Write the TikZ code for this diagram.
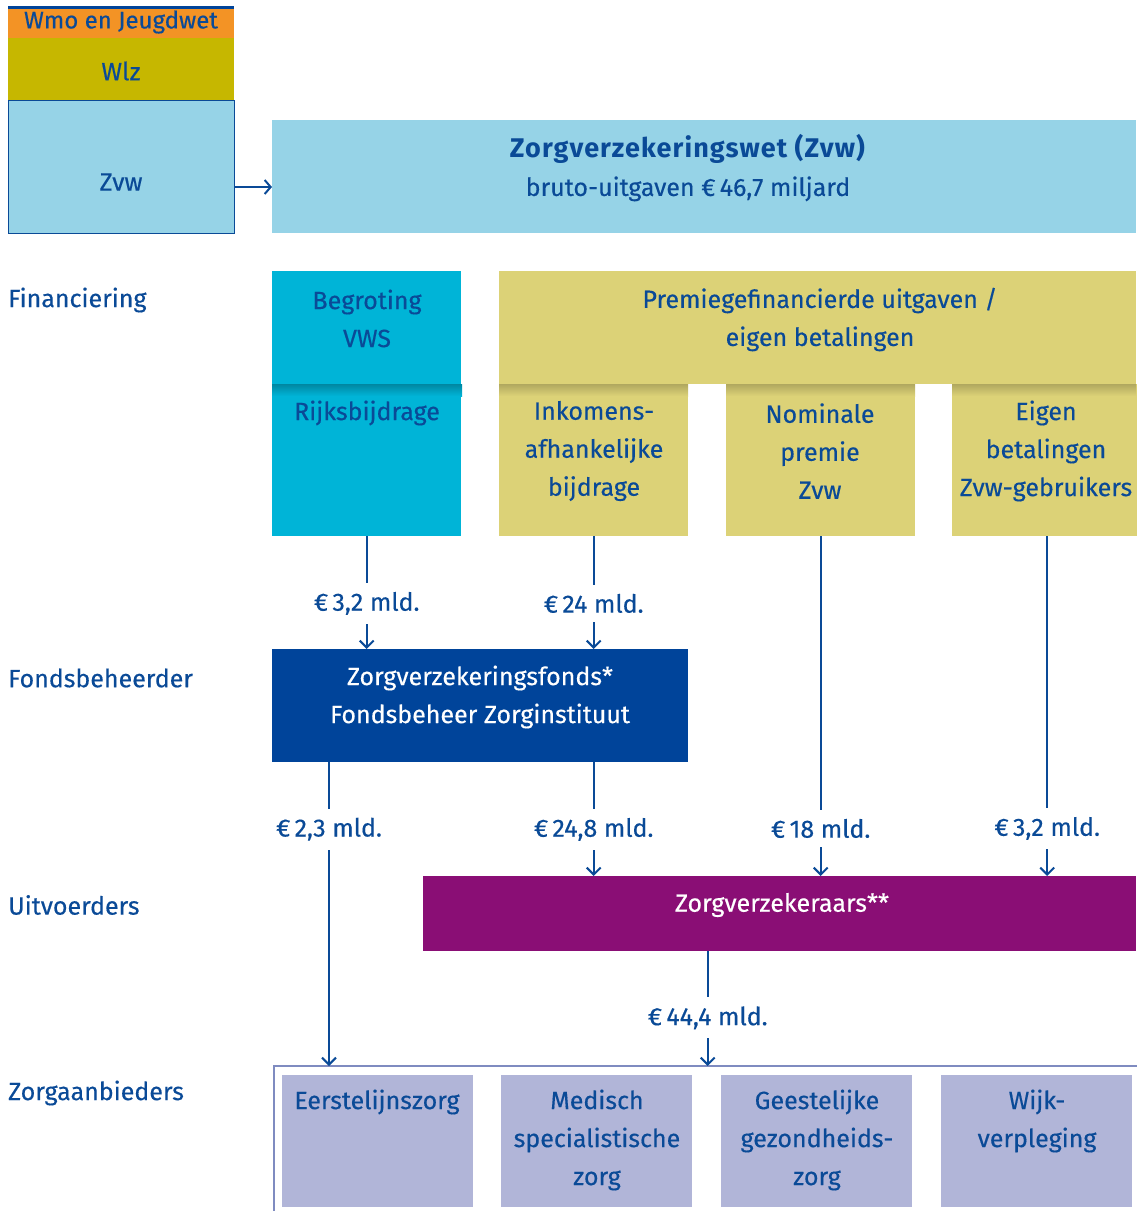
\documentclass[tikz,border=0pt]{standalone}
\usepackage{fontspec}
\setmainfont{Fira Sans}[UprightFeatures={FakeBold=0.35}]
\usetikzlibrary{arrows.meta}
\definecolor{txt}{HTML}{0A4A97}
\definecolor{zvwblue}{HTML}{96D3E7}
\definecolor{cyanbox}{HTML}{00B4D7}
\definecolor{khaki}{HTML}{DCD277}
\definecolor{navybox}{HTML}{00449A}
\definecolor{purplebox}{HTML}{8A0E75}
\definecolor{lav}{HTML}{B1B5D8}
\definecolor{framecol}{HTML}{7F8BC0}
\definecolor{orangebox}{HTML}{F39325}
\definecolor{olivebox}{HTML}{C6B700}
\begin{document}
\begin{tikzpicture}[x=1pt,y=-1pt,
  box/.style={draw=none,inner sep=0,anchor=north west},
  tx/.style={text=txt,font=\fontsize{25}{38}\selectfont,align=center,inner sep=0},
  wtx/.style={tx,text=white},
  rowlbl/.style={tx,anchor=west},
  flow/.style={draw=txt,line width=2pt,-{Straight Barb[length=7pt,width=14pt,line width=2pt]}},
  lbl/.style={tx,fill=white,inner xsep=3pt,inner ysep=9pt}
]
\useasboundingbox (0,0) rectangle (1136,1211);
% top-left legend
\node[box,fill=orangebox,minimum width=226,minimum height=32] (wmo) at (8,7) {};
\draw[navybox,line width=3pt] (wmo.north west) -- (wmo.north east);
\node[tx,font=\fontsize{24}{30}\selectfont] (wmot) at (121,22) {Wmo en Jeugdwet};
\node[box,fill=olivebox,minimum width=226,minimum height=62] (wlz) at (8,38) {};
\node[tx] (wlzt) at (121,71) {Wlz};
\node[box,fill=zvwblue,draw=txt,line width=0.8pt,minimum width=226,minimum height=133] (zvws) at (8,100) {};
\node[tx] (zvwst) at (121,182) {Zvw};
% big Zvw box
\node[box,fill=zvwblue,minimum width=864,minimum height=113] (big) at (272,120) {};
\node[tx] (bigt) at (688,168) {{\fontsize{27}{38}\selectfont\addfontfeatures{LetterSpace=4}\textbf{Zorgverzekeringswet (Zvw)}}\\bruto-uitgaven €\,46,7 miljard};
\draw[draw=txt,line width=2pt,-{Straight Barb[length=6pt,width=14pt,line width=2pt]}] (zvws.east |- 0,187) -- (big.west |- 0,187);
% row labels
\node[rowlbl] (r1) at (8,300) {Financiering};
\node[rowlbl] (r2) at (8,678) {Fondsbeheerder};
\node[rowlbl] (r3) at (8,905) {Uitvoerders};
\node[rowlbl] (r4) at (8,1093) {Zorgaanbieders};
% financing boxes
\node[box,fill=cyanbox,minimum width=189,minimum height=265] (begr) at (272,271) {};
\node[box,fill=khaki,minimum width=637,minimum height=113] (prem) at (499,271) {};
\node[box,fill=khaki,minimum width=189,minimum height=152] (ink) at (499,384) {};
\node[box,fill=khaki,minimum width=189,minimum height=152] (nom) at (726,384) {};
\node[box,fill=khaki,minimum width=190,minimum height=152] (eig) at (952,384) {};
% shadows
\shade[top color=cyanbox!75!black,bottom color=cyanbox] (272,384) rectangle (462,396);
\shade[top color=khaki!80!black,bottom color=khaki] (499,384) rectangle (688,396);
\shade[top color=khaki!80!black,bottom color=khaki] (726,384) rectangle (915,396);
\shade[top color=khaki!80!black,bottom color=khaki] (952,384) rectangle (1136,396);
\node[tx] (begrt) at (367,318.5) {Begroting\\VWS};
\node[tx] (rijkt) at (367,413) {Rijksbijdrage};
\node[tx] (premt) at (820,319.5) {Premiegefinancierde uitgaven /\\eigen betalingen};
\node[tx] (inkt) at (594,451) {Inkomens-\\afhankelijke\\bijdrage};
\node[tx] (nomt) at (820,451) {Nominale\\premie\\Zvw};
\node[tx] (eigt) at (1046,451) {Eigen\\betalingen\\Zvw-gebruikers};
% fonds
\node[box,fill=navybox,minimum width=416,minimum height=113] (fonds) at (272,649) {};
\node[wtx] (fondst) at (480,697) {Zorgverzekeringsfonds*\\Fondsbeheer Zorginstituut};
% zorgverzekeraars
\node[box,fill=purplebox,minimum width=713,minimum height=75] (zv) at (423,876) {};
\node[wtx] (zvt) at (782,905) {Zorgverzekeraars**};
% zorgaanbieders frame
\coordinate (ftl) at (274,1066);
\coordinate (fbl) at (274,1212);
\coordinate (ftr) at (1137,1066);
\draw[framecol,line width=2.5pt] (fbl) -- (ftl) -- (ftr);
\node[box,fill=lav,minimum width=191,minimum height=132] (eer) at (282,1075) {};
\node[box,fill=lav,minimum width=191,minimum height=132] (med) at (501,1075) {};
\node[box,fill=lav,minimum width=191,minimum height=132] (gee) at (721,1075) {};
\node[box,fill=lav,minimum width=191,minimum height=132] (wij) at (941,1075) {};
\node[tx] (eert) at (377,1102) {Eerstelijnszorg};
\node[tx] (medt) at (597,1140) {Medisch\\specialistische\\zorg};
\node[tx] (geet) at (817,1140) {Geestelijke\\gezondheids-\\zorg};
\node[tx] (wijt) at (1037,1121) {Wijk-\\verpleging};
% flows
\draw[flow] (begr.south) -- (begr.south |- fonds.north) node[lbl,pos=0.595] {€\,3,2 mld.};
\draw[flow] (ink.south) -- (ink.south |- fonds.north) node[lbl,pos=0.595] {€\,24 mld.};
\draw[flow] ([xshift=57]fonds.south west) -- ([xshift=57]fonds.south west |- ftl) node[lbl,pos=0.22] {€\,2,3 mld.};
\draw[flow] (ink.south |- fonds.south) -- (ink.south |- zv.north) node[lbl,pos=0.59] {€\,24,8 mld.};
\draw[flow] (nom.south) -- (nom.south |- zv.north) node[lbl,pos=0.86] {€\,18 mld.};
\draw[flow] (eig.south) -- (eig.south |- zv.north) node[lbl,pos=0.86] {€\,3,2 mld.};
\draw[flow] ([xshift=-72]zv.south) -- ([xshift=-72]zv.south |- ftl) node[lbl,pos=0.58] {€\,44,4 mld.};
\end{tikzpicture}
\end{document}
